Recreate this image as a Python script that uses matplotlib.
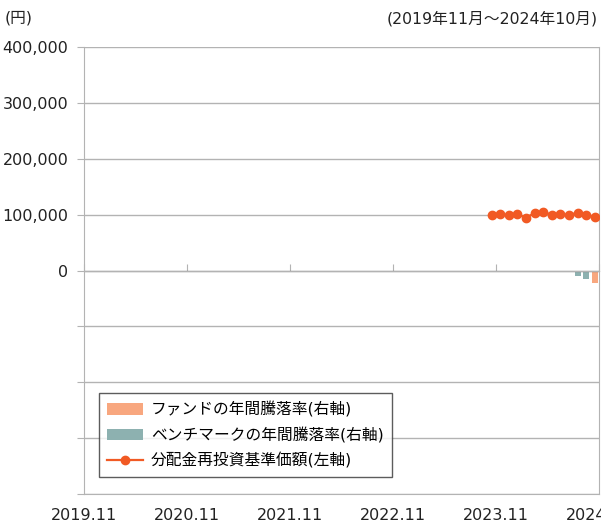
import numpy as np
import pandas as pd
import matplotlib
matplotlib.use("Agg")
import matplotlib.pyplot as plt
from matplotlib.ticker import FuncFormatter

plt.rcParams['font.family'] = ['DejaVu Sans', 'Noto Sans CJK JP']

# months of the chart, 2019.11 - 2024.10
months = pd.date_range(start='2019-11-01', periods=60, freq='MS').strftime('%Y.%m').tolist()

# base price (reinvested), yen - fund starts 2023.10
nav_start = "2023.10"
nav_values = [100000, 100500, 98900, 100600, 94800, 102500, 104300,
              100200, 100300, 99600, 103200, 100200, 95400]

# annual returns (%), right axis
fund_ret = {"2024.10": -4.3}
bench_ret = {"2024.08": -1.8, "2024.09": -2.9}

x_labels = ["2019.11", "2020.11", "2021.11", "2022.11", "2023.11", "2024.11"]
y_ticks = [-400000, -300000, -200000, -100000, 0, 100000, 200000, 300000, 400000]

labels = ["ファンドの年間騰落率(右軸)", "ベンチマークの年間騰落率(右軸)", "分配金再投資基準価額(左軸)"]
c_fund = "#f8a77f"
c_bench = "#8db1b0"
c_nav = "#f15a24"
c_grid = "#b3b3b3"

fig = plt.figure(figsize=(6.01, 5.27), dpi=100)
ax = fig.add_axes([0.139, 0.0626, 0.8577, 0.8482])
ax2 = ax.twinx()

xs = np.arange(len(months)) + 0.5

# bars on the right axis
fund_y = np.array([fund_ret.get(m, np.nan) for m in months])
bench_y = np.array([bench_ret.get(m, np.nan) for m in months])
b1 = ax2.bar(xs, fund_y, width=0.7, color=c_fund, zorder=2)
b2 = ax2.bar(xs, bench_y, width=0.7, color=c_bench, zorder=2)
ax2.set_ylim(-80, 80)
ax2.set_yticks([])
for s in ax2.spines.values():
    s.set_visible(False)

# line on the left axis
i0 = months.index(nav_start)
l1, = ax.plot(xs[i0:i0 + len(nav_values)], nav_values, color=c_nav, lw=1.6,
              marker="o", markersize=6, zorder=5)
ax.set_zorder(ax2.get_zorder() + 1)
ax.patch.set_visible(False)

ax.set_ylim(-400000, 400000)
ax.set_xlim(0, 60)
ax.set_yticks(y_ticks)
ax.yaxis.set_major_formatter(FuncFormatter(lambda v, p: "{:,.0f}".format(v) if v >= 0 else ""))
ax.grid(axis="y", color=c_grid, lw=1)
ax.tick_params(axis="y", length=5, color=c_grid, labelsize=11.5, pad=6, labelcolor="#222222")
ax.set_xticks(np.arange(0, 61, 12))
ax.set_xticklabels(x_labels)
ax.tick_params(axis="x", length=0, labelsize=11.5, pad=10, labelcolor="#222222")
for k in ["left", "right", "bottom"]:
    ax.spines[k].set_color(c_grid)
ax.spines["top"].set_visible(False)

# category axis crossing at zero with tick marks
sec = ax.secondary_xaxis(0.5)
sec.set_xticks(np.arange(0, 61, 12))
sec.set_xticklabels([])
sec.tick_params(axis="x", length=5, color=c_grid)
sec.spines["bottom"].set_color(c_grid)

leg = ax.legend([b1, b2, l1], labels, loc="lower left", bbox_to_anchor=(0.03, 0.038),
                borderaxespad=0, fontsize=11.3, frameon=True, fancybox=False,
                handlelength=2.3, handleheight=0.75, labelspacing=0.62,
                borderpad=0.52, handletextpad=0.5)
leg.get_frame().set_edgecolor("#333333")
leg.get_frame().set_linewidth(1)

fig.text(0.008, 0.965, "(円)", fontsize=11.3, va="center", ha="left", color="#222222")
fig.text(0.995, 0.965, "(2019年11月～2024年10月)", fontsize=11.3, va="center", ha="right", color="#222222")

fig.savefig("out.png", dpi=100)
